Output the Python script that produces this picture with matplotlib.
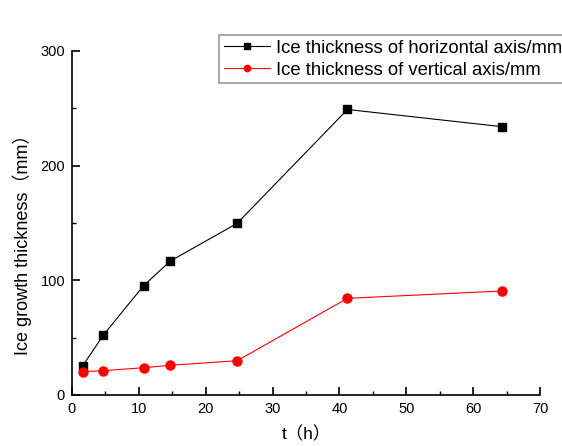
import matplotlib
matplotlib.use("Agg")
import matplotlib.pyplot as plt
from matplotlib.ticker import MultipleLocator

plt.rcParams['font.family'] = ['Liberation Sans', 'Noto Sans CJK SC', 'DejaVu Sans']

t_hours = [1.6, 4.7, 10.7, 14.7, 24.7, 41.2, 64.3]
horizontal = [25.5, 52.3, 95.3, 116.8, 149.7, 249.0, 234.0]
vertical = [20.3, 21.2, 23.8, 25.9, 29.9, 84.3, 90.7]

fig = plt.figure(figsize=(5.62, 4.46), dpi=100)
ax = fig.add_axes([72/562, 1-395/446, (540-72)/562, (395-51)/446])

l1, = ax.plot(t_hours, horizontal, color='black', lw=0.8, marker='s', ms=6,
              label='Ice thickness of horizontal axis/mm')
l2, = ax.plot(t_hours, vertical, color='red', lw=0.8, marker='o', ms=6.5,
              label='Ice thickness of vertical axis/mm')

ax.set_xlim(0, 70)
ax.set_ylim(0, 300)
ax.xaxis.set_major_locator(MultipleLocator(10))
ax.xaxis.set_minor_locator(MultipleLocator(5))
ax.yaxis.set_major_locator(MultipleLocator(100))
ax.yaxis.set_minor_locator(MultipleLocator(50))
ax.spines['top'].set_visible(False)
ax.spines['right'].set_visible(False)
for s in ('left', 'bottom'):
    ax.spines[s].set_linewidth(1.2)
ax.tick_params(which='major', direction='in', length=6, width=1.2, labelsize=10.5, pad=5)
ax.tick_params(which='minor', direction='in', length=3, width=1.0)

ax.set_xlabel('t（h）', fontsize=12.5, labelpad=7)
ax.set_ylabel('Ice growth thickness（mm）', fontsize=13)
ax.yaxis.set_label_coords(-0.085, 0.45)

leg = fig.legend(handles=[l1, l2], loc='upper left',
                 bbox_to_anchor=(219/562, 1-35/446), fontsize=13.3,
                 frameon=True, fancybox=False, edgecolor='#808080',
                 borderpad=0.25, handlelength=2.5, handletextpad=0.35,
                 labelspacing=0.28, markerscale=0.7, borderaxespad=0)
leg.get_frame().set_linewidth(1.2)

fig.savefig('out.png', dpi=100)
